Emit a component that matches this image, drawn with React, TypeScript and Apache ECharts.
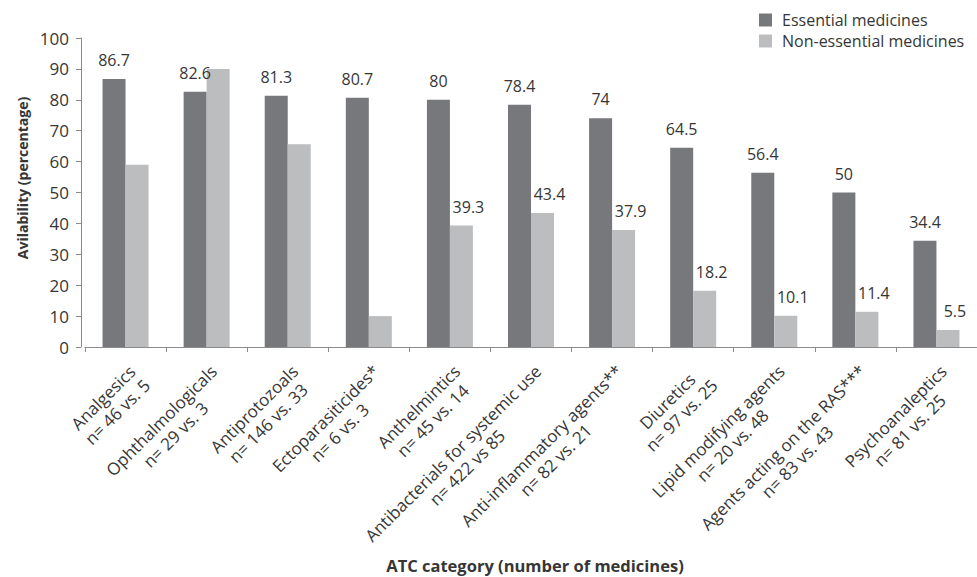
import React, { useEffect, useRef } from "react";
import * as echarts from "echarts";

const categories = [
  "Analgesics",
  "Ophthalmologicals",
  "Antiprotozoals",
  "Ectoparasiticides*",
  "Anthelmintics",
  "Antibacterials for systemic use",
  "Anti-inflammatory agents**",
  "Diuretics",
  "Lipid modifying agents",
  "Agents acting on the RAS***",
  "Psychoanaleptics",
];
const counts = [
  "n= 46 vs. 5",
  "n= 29 vs. 3",
  "n= 146 vs. 33",
  "n= 6 vs. 3",
  "n= 45 vs. 14",
  "n= 422 vs 85",
  "n= 82 vs. 21",
  "n= 97 vs. 25",
  "n= 20 vs. 48",
  "n= 83 vs. 43",
  "n= 81 vs. 25",
];
const essential = [86.7, 82.6, 81.3, 80.7, 80, 78.4, 74, 64.5, 56.4, 50, 34.4];
const nonEssential = [59, 90, 65.6, 10, 39.3, 43.4, 37.9, 18.2, 10.1, 11.4, 5.5];
const nonEssentialLabelled = [false, false, false, false, true, true, true, true, true, true, true];
const yTicks = { min: 0, max: 100, interval: 10 };

const FONT = "'Open Sans', Lato, sans-serif";
const TEXT = "#363636";
const DARK = "#77787b";
const LIGHT = "#bcbdbf";

export default function App() {
  const ref = useRef<HTMLDivElement>(null);
  useEffect(() => {
    if (!ref.current) return;
    const chart = echarts.init(ref.current, null, { renderer: "svg" });
    const labels = categories.map((c, i) => `${c}\n${counts[i]}`);
    chart.setOption({
      animation: false,
      backgroundColor: "#ffffff",
      textStyle: { fontFamily: FONT },
      grid: { left: 85, top: 38, width: 900, height: 309, containLabel: false },
      legend: {
        orient: "vertical",
        left: 759,
        top: 12,
        padding: 0,
        itemWidth: 13,
        itemHeight: 13,
        itemGap: 5,
        icon: "rect",
        textStyle: { fontSize: 16, color: TEXT, fontFamily: FONT, padding: [0, 0, 0, 5] },
        data: ["Essential medicines", "Non-essential medicines"],
      },
      xAxis: {
        type: "category",
        data: labels,
        axisLine: { show: true, lineStyle: { color: "#8c8c8c", width: 1 } },
        axisTick: { show: true, length: 5, lineStyle: { color: "#8c8c8c" } },
        axisLabel: {
          interval: 0,
          rotate: 45,
          margin: 14,
          align: "right",
          verticalAlign: "top",
          formatter: (v: string) => {
            const [a, b] = v.split("\n");
            return `{t|${a}}\n{t|${b}}`;
          },
          rich: {
            t: { align: "center", fontSize: 17, lineHeight: 20, color: TEXT, fontFamily: FONT },
          },
        },
      },
      yAxis: {
        type: "value",
        min: yTicks.min,
        max: yTicks.max,
        interval: yTicks.interval,
        offset: 4,
        splitLine: { show: false },
        axisLine: { show: true, lineStyle: { color: "#8c8c8c", width: 1 } },
        axisTick: { show: true, length: 5, lineStyle: { color: "#8c8c8c" } },
        axisLabel: { fontSize: 17, color: TEXT, margin: 12, fontFamily: FONT },
      },
      series: [
        {
          name: "Essential medicines",
          type: "bar",
          data: essential,
          barWidth: 23,
          barGap: "0%",
          itemStyle: { color: DARK },
          label: {
            show: true,
            position: "top",
            distance: 11,
            fontSize: 16,
            color: TEXT,
            fontFamily: FONT,
          },
        },
        {
          name: "Non-essential medicines",
          type: "bar",
          data: nonEssential.map((v, i) => ({ value: v, label: { show: nonEssentialLabelled[i] } })),
          barWidth: 23,
          barGap: "0%",
          itemStyle: { color: LIGHT },
          label: {
            show: true,
            position: "top",
            distance: 11,
            offset: [7, 0],
            fontSize: 16,
            color: TEXT,
            fontFamily: FONT,
          },
        },
      ],
      graphic: [
        {
          type: "text",
          x: 22,
          y: 178,
          rotation: Math.PI / 2,
          style: {
            text: "Avilability (percentage)",
            font: `bold 14px ${FONT}`,
            fill: TEXT,
            align: "center",
            verticalAlign: "middle",
          },
        },
        {
          type: "text",
          x: 535,
          y: 565,
          style: {
            text: "ATC category (number of medicines)",
            font: `bold 16.5px ${FONT}`,
            fill: TEXT,
            align: "center",
            verticalAlign: "middle",
          },
        },
      ],
    });
    return () => chart.dispose();
  }, []);
  return <div ref={ref} style={{ width: 977, height: 577, position: "absolute", left: 0, top: 0 }} />;
}
